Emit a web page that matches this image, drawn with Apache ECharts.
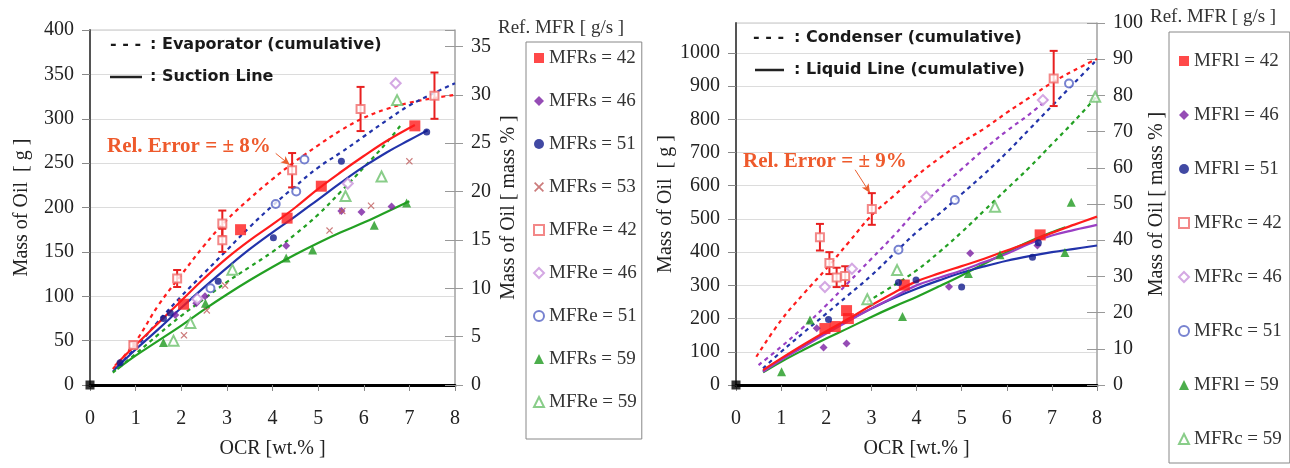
<!DOCTYPE html>
<html><head><meta charset="utf-8">
<script src="https://cdn.jsdelivr.net/npm/echarts@6/dist/echarts.min.js"></script>
<style>html,body{margin:0;padding:0;background:#fff}#c{width:1290px;height:468px}</style>
</head><body><div id="c"></div>
<script>
// ---------- LEFT CHART (evaporator / suction line) ----------
const evapRed42 = [[0.5,18],[1,49],[1.5,90],[2,124],[2.5,157],[3,186],[3.5,210],[4,232],[4.5,252],[5,270],[5.5,287],[6,301],[6.5,311],[7,318],[7.5,323],[8,327]];
const evapBlue51 = [[0.5,15],[1,42],[1.5,72],[2,100],[2.5,126],[3,152],[3.5,178],[4,202],[4.5,224],[5,245],[5.5,262],[6,280],[6.5,298],[7,315],[7.5,328],[8,340]];
const evapGreen59 = [[0.5,14],[1,35],[1.5,57],[2,78],[2.5,97],[3,116],[3.5,133],[4,150],[4.5,170],[5,192],[5.5,218],[6,245],[6.5,273],[6.8,292]];
const sucRed42 = [[0.55,22],[1,45],[1.5,70],[2,95],[2.5,120],[3,143],[3.5,163],[4,181],[4.5,200],[5,221],[5.5,240],[6,258],[6.5,275],[7.12,293]];
const sucBlue51 = [[0.55,18],[1,40],[1.5,63],[2,87],[2.5,110],[3,132],[3.5,153],[4,172],[4.5,190],[5,209],[5.5,228],[6,246],[6.5,262],[7,276],[7.4,287]];
const sucGreen59 = [[0.6,18],[1,33],[1.5,50],[2,67],[2.5,85],[3,102],[3.5,118],[4,133],[4.5,147],[5,160],[5.5,172],[6,183],[6.5,195],[7,207]];

const mfrs42 = [[2.05,91],[3.30,175],[4.32,188],[5.07,224],[7.12,292]];
const mfrs46 = [[1.87,79],[2.33,92],[2.52,100],[4.30,157],[5.51,196],[5.95,195],[6.61,201]];
const mfrs51 = [[0.66,25],[1.61,75],[1.76,81],[2.81,117],[4.02,166],[5.51,252],[7.38,285]];
const mfrs53 = [[2.06,56],[2.56,84],[2.96,112],[5.25,174],[5.53,196],[6.16,202],[7.0,252]];
const mfre42 = [[0.95,45],[1.91,120],[2.9,163],[2.9,182],[4.43,242],[5.93,311],[7.55,326]];
const mfre46 = [[2.35,97],[5.65,227],[6.7,340]];
const mfre51 = [[2.64,109],[4.07,204],[4.52,218],[4.7,254]];
const mfrs59 = [[1.61,48],[2.53,92],[4.30,143],[4.88,152],[6.23,180],[6.94,205]];
const mfre59 = [[1.83,50],[2.2,70],[3.12,130],[5.6,213],[6.39,235],[6.73,321]];
const REL_ERR_EVAP = 0.08;

// ---------- RIGHT CHART (condenser / liquid line) ----------
const condRed42 = [[0.45,85],[1,195],[1.5,275],[2,350],[2.5,430],[3,510],[3.5,570],[4,630],[4.5,682],[5,730],[5.5,772],[6,820],[6.5,865],[7,910],[7.5,948],[8,982]];
const condPurple46 = [[0.5,60],[1,115],[1.5,175],[2,240],[2.5,310],[3,380],[3.5,450],[4,525],[4.5,590],[5,650],[5.5,710],[6,765],[6.5,815],[6.9,860]];
const condBlue51 = [[0.6,50],[1,100],[1.5,158],[2,215],[2.5,272],[3,330],[3.5,395],[4,460],[4.5,515],[5,575],[5.5,635],[6,700],[6.5,770],[7,840],[7.5,910],[8,980]];
const condGreen59 = [[2.9,250],[3.5,300],[4,345],[4.5,400],[5,460],[5.5,525],[6,590],[6.5,655],[7,725],[7.5,795],[8,870]];
const liqRed42 = [[0.6,45],[1,80],[1.5,122],[2,162],[2.5,200],[3,240],[3.5,278],[4,312],[4.5,336],[5,358],[5.5,380],[6,405],[6.5,430],[7,458],[7.5,483],[8,507]];
const liqPurple46 = [[0.6,40],[1,75],[1.5,115],[2,155],[2.5,193],[3,230],[3.5,265],[4,300],[4.5,323],[5,345],[5.5,370],[6,395],[6.5,425],[7,450],[7.5,467],[8,482]];
const liqBlue51 = [[0.6,42],[1,78],[1.5,118],[2,158],[2.5,195],[3,230],[3.5,262],[4,290],[4.5,315],[5,338],[5.5,357],[6,374],[6.5,388],[7,400],[7.5,410],[8,420]];
const liqGreen59 = [[0.6,38],[1,70],[1.5,106],[2,140],[2.5,172],[3,205],[3.5,236],[4,265],[4.5,297],[5,330],[5.5,365],[6,400],[6.5,432],[7,460],[7.3,475]];

const mfrl42 = [[1.97,170],[2.2,176],[2.45,224],[2.49,200],[3.73,301],[6.74,452]];
const mfrl46 = [[1.79,171],[1.94,113],[2.45,125],[4.72,296],[5.19,397],[6.68,420]];
const mfrl51 = [[2.05,197],[3.6,309],[3.99,316],[5.0,295],[6.57,385],[6.7,428]];
const mfrc42 = [[1.86,445],[2.07,367],[2.23,324],[2.42,328],[3.01,530],[7.04,923]];
const mfrc46 = [[1.97,295],[2.57,350],[4.22,567],[6.8,858]];
const mfrc51 = [[3.6,407],[4.85,557],[7.38,908]];
const mfrl59 = [[1.01,40],[1.64,196],[3.69,206],[5.15,336],[5.85,392],[7.29,399],[7.43,550]];
const mfrc59 = [[2.91,258],[3.57,346],[5.74,537],[7.96,868]];
const REL_ERR_COND = 0.09;

const origin = [[0,0]];
const legendLeft = ['MFRs = 42','MFRs = 46','MFRs = 51','MFRs = 53','MFRe = 42','MFRe = 46','MFRe = 51','MFRs = 59','MFRe = 59'];
const legendRight = ['MFRl = 42','MFRl = 46','MFRl = 51','MFRc = 42','MFRc = 46','MFRc = 51','MFRl = 59','MFRc = 59'];

// ---------- styling ----------
const SERIF = 'Liberation Serif';
const C = {red:'#ff1c1c', purple:'#7b1fa2', navy:'#121c8c', brown:'#bf5a5a', ored:'#f06a6a', lilac:'#c992dc', oblue:'#5563c4', green:'#1f9a1f', lgreen:'#6cc06c',
  lblue:'#2233aa', lpurple:'#9a3fc4', lgreenLine:'#23a023', arrow:'#ea6030'};
const XMARK = 'path://M0,1.2L1.2,0L5,3.8L8.8,0L10,1.2L6.2,5L10,8.8L8.8,10L5,6.2L1.2,10L0,8.8L3.8,5Z';

function yIdx(g){return g===0?0:3;}
function scat(name, data, g, symbol, size, color){
  return {type:'scatter', name, data, xAxisIndex:g, yAxisIndex:yIdx(g), symbol, symbolSize:size,
    itemStyle:{color, borderWidth: symbol.indexOf('empty')===0?1.5:0}, z:6, silent:true};
}
function curve(name, data, g, color, dashed, extra){
  return Object.assign({type:'line', name, data, xAxisIndex:g, yAxisIndex:yIdx(g), smooth:0.4, showSymbol:false, symbol:'none',
    lineStyle:{color, width:2.2, type: dashed?[4,4]:'solid'}, itemStyle:{color}, z:4, silent:true}, extra||{});
}
function errBars(name, data, rel, g, color){
  const d = data.map(p=>[p[0], p[1]*(1-rel), p[1]*(1+rel)]);
  return {type:'custom', name, data:d, xAxisIndex:g, yAxisIndex:yIdx(g), z:5, silent:true,
    encode:{x:0, y:[1,2]},
    renderItem:function(params, api){
      const x=api.value(0); const a=api.coord([x, api.value(1)]); const b=api.coord([x, api.value(2)]);
      const w=4; const st={stroke:color, lineWidth:2};
      return {type:'group', children:[
        {type:'line', shape:{x1:a[0],y1:a[1],x2:b[0],y2:b[1]}, style:st},
        {type:'line', shape:{x1:a[0]-w,y1:a[1],x2:a[0]+w,y2:a[1]}, style:st},
        {type:'line', shape:{x1:b[0]-w,y1:b[1],x2:b[0]+w,y2:b[1]}, style:st}
      ]};
    }};
}
function arrowML(p0, p1){
  return {markLine:{silent:true, symbol:['none','arrow'], symbolSize:[6,9], label:{show:false},
    lineStyle:{color:C.arrow, width:1, type:'solid'}, data:[[{coord:p0},{coord:p1}]]}};
}

const plain = v => String(v);
const axisLabel = {fontFamily:SERIF, fontSize:20, color:'#222', formatter:plain};
const nameStyle = {fontFamily:SERIF, fontSize:20, color:'#222'};
function xAx(g){
  return {type:'value', gridIndex:g, min:0, max:8, interval:1, name:'OCR [wt.% ]', nameLocation:'middle', nameGap:54, nameTextStyle:nameStyle,
    axisLine:{show:true, onZero:false, lineStyle:{color:'#000', width:3}}, axisTick:{show:true, length:6, lineStyle:{color:'#888'}},
    axisLabel:Object.assign({margin:24}, axisLabel), splitLine:{show:false}};
}
function yLeft(g, max, interval, gap){
  return {type:'value', gridIndex:g, position:'left', min:0, max, interval, name:'Mass of Oil  [ g ]', nameLocation:'middle', nameGap:gap, nameTextStyle:nameStyle,
    axisLine:{show:true, lineStyle:{color:'#555', width:2}}, axisTick:{show:true, length:8, lineStyle:{color:'#888'}},
    axisLabel:Object.assign({margin:16, showMaxLabel: max%interval===0}, axisLabel), splitLine:{show:true, lineStyle:{color:'#dcdcdc'}}};
}
function yRight(g, max, interval, gap){
  return {type:'value', gridIndex:g, position:'right', min:0, max, interval, name:'Mass of Oil [ mass % ]', nameLocation:'middle', nameGap:gap, nameTextStyle:nameStyle,
    axisLine:{show:true, lineStyle:{color:'#aaa', width:1.5}}, axisTick:{show:true, length:8, lineStyle:{color:'#999'}},
    axisLabel:Object.assign({margin:16, showMaxLabel: Math.abs(max%interval)<1e-9}, axisLabel), splitLine:{show:false}};
}
function yRightIn(g, max, interval){
  return {type:'value', gridIndex:g, position:'right', min:0, max, interval,
    axisLine:{show:false}, axisTick:{show:true, inside:true, length:10, lineStyle:{color:'#999'}}, axisLabel:{show:false}, splitLine:{show:false}};
}

const legendText = {fontFamily:SERIF, fontSize:19, color:'#333', lineHeight:20};
const iconsLeft = {'MFRs = 42':'rect','MFRs = 46':'diamond','MFRs = 51':'circle','MFRs = 53':XMARK,'MFRe = 42':'emptyRect','MFRe = 46':'emptyDiamond','MFRe = 51':'emptyCircle','MFRs = 59':'triangle','MFRe = 59':'emptyTriangle'};
const iconsRight = {'MFRl = 42':'rect','MFRl = 46':'diamond','MFRl = 51':'circle','MFRc = 42':'emptyRect','MFRc = 46':'emptyDiamond','MFRc = 51':'emptyCircle','MFRl = 59':'triangle','MFRc = 59':'emptyTriangle'};

const series = [
  // left curves
  curve('evap42', evapRed42, 0, C.red, true, arrowML([4.07,261],[4.38,248])),
  curve('evap51', evapBlue51, 0, C.lblue, true),
  curve('evap59', evapGreen59, 0, C.lgreenLine, true),
  curve('suc42', sucRed42, 0, C.red, false),
  curve('suc51', sucBlue51, 0, C.lblue, false),
  curve('suc59', sucGreen59, 0, C.lgreenLine, false),
  errBars('err42e', mfre42, REL_ERR_EVAP, 0, '#e82020'),
  scat('MFRs = 42', mfrs42, 0, 'rect', 11, C.red),
  scat('MFRs = 46', mfrs46, 0, 'diamond', 8, C.purple),
  scat('MFRs = 51', mfrs51, 0, 'circle', 7, C.navy),
  scat('MFRs = 53', mfrs53, 0, XMARK, 7, C.brown),
  scat('MFRe = 42', mfre42, 0, 'emptyRect', 8, C.ored),
  scat('MFRe = 46', mfre46, 0, 'emptyDiamond', 10, C.lilac),
  scat('MFRe = 51', mfre51, 0, 'emptyCircle', 8, C.oblue),
  scat('MFRs = 59', mfrs59, 0, 'triangle', 9, C.green),
  scat('MFRe = 59', mfre59, 0, 'emptyTriangle', 10, C.lgreen),
  scat('origin0', origin, 0, 'rect', 9, '#000'),
  // right curves
  curve('cond42', condRed42, 1, C.red, true, arrowML([2.64,648],[2.97,578])),
  curve('cond46', condPurple46, 1, C.lpurple, true),
  curve('cond51', condBlue51, 1, C.lblue, true),
  curve('cond59', condGreen59, 1, C.lgreenLine, true),
  curve('liq59', liqGreen59, 1, C.lgreenLine, false),
  curve('liq51', liqBlue51, 1, C.lblue, false),
  curve('liq46', liqPurple46, 1, C.lpurple, false),
  curve('liq42', liqRed42, 1, C.red, false),
  errBars('err42c', mfrc42, REL_ERR_COND, 1, '#e82020'),
  scat('MFRl = 42', mfrl42, 1, 'rect', 11, C.red),
  scat('MFRl = 46', mfrl46, 1, 'diamond', 8, C.purple),
  scat('MFRl = 51', mfrl51, 1, 'circle', 7, C.navy),
  scat('MFRc = 42', mfrc42, 1, 'emptyRect', 8, C.ored),
  scat('MFRc = 46', mfrc46, 1, 'emptyDiamond', 10, C.lilac),
  scat('MFRc = 51', mfrc51, 1, 'emptyCircle', 8, C.oblue),
  scat('MFRl = 59', mfrl59, 1, 'triangle', 9, C.green),
  scat('MFRc = 59', mfrc59, 1, 'emptyTriangle', 10, C.lgreen),
  scat('origin1', origin, 1, 'rect', 9, '#000')
];

const boldSans = {fontFamily:'DejaVu Sans', fontWeight:'bold', fontSize:16, fill:'#1a1a1a', textVerticalAlign:'middle'};
function t(x,y,text,st){return {type:'text', x, y, z:20, style:Object.assign({text}, boldSans, st||{})};}
const graphic = [
  t(110,45,'- - -'), t(150,45,': Evaporator (cumulative)'),
  {type:'line', z:20, shape:{x1:110,y1:77,x2:142,y2:77}, style:{stroke:'#222', lineWidth:2.5}},
  t(150,77,': Suction Line'),
  t(753,38,'- - -'), t(794,38,': Condenser (cumulative)'),
  {type:'line', z:20, shape:{x1:755,y1:70,x2:784,y2:70}, style:{stroke:'#222', lineWidth:2.5}},
  t(794,70,': Liquid Line (cumulative)'),
  t(107,147,'Rel. Error = \u00b1 8%', {fontFamily:SERIF, fontSize:21, fill:'#ee5a2c'}),
  t(743,162,'Rel. Error = \u00b1 9%', {fontFamily:SERIF, fontSize:21, fill:'#ee5a2c'}),
  t(498,28,'Ref. MFR [ g/s ]', {fontFamily:SERIF, fontWeight:'normal', fontSize:19, fill:'#333'}),
  t(1150,17,'Ref. MFR [ g/s ]', {fontFamily:SERIF, fontWeight:'normal', fontSize:19, fill:'#333'})
];

const option = {
  animation:false,
  backgroundColor:'#fff',
  grid:[
    {left:90, top:30, width:365, height:355, show:true, borderColor:'#c4c4c4', borderWidth:1},
    {left:736, top:23, width:361, height:362, show:true, borderColor:'#c4c4c4', borderWidth:1}
  ],
  xAxis:[xAx(0), xAx(1)],
  yAxis:[
    yLeft(0, 400, 50, 58), yRight(0, 36.7, 5, 44), yRightIn(0, 36.7, 5),
    yLeft(1, 1090, 100, 56), yRight(1, 100, 10, 48), yRightIn(1, 100, 10)
  ],
  legend:[
    {orient:'vertical', left:526, top:42, padding:[6,5,27,7], itemGap:23, itemWidth:10, itemHeight:10,
      borderColor:'#888', borderWidth:1, textStyle:legendText, selectedMode:false,
      data: legendLeft.map(n=>({name:n, icon:iconsLeft[n]}))},
    {orient:'vertical', left:1169, top:32, padding:[19,8,14,9], itemGap:34, itemWidth:10, itemHeight:10,
      borderColor:'#888', borderWidth:1, textStyle:legendText, selectedMode:false,
      data: legendRight.map(n=>({name:n, icon:iconsRight[n]}))}
  ],
  graphic,
  series
};
const chart = echarts.init(document.getElementById('c'), null, {renderer:'canvas'});
chart.setOption(option);
</script></body></html>
